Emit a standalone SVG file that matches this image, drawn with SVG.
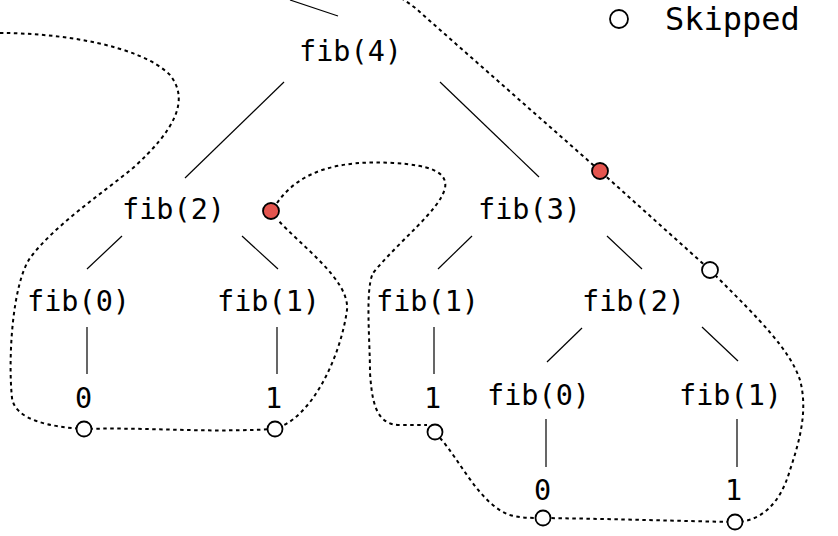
<svg xmlns="http://www.w3.org/2000/svg" width="838" height="536" viewBox="0 0 838 536">
<style>
.t{font-family:"DejaVu Sans Mono","Liberation Mono",monospace;font-size:28.5px;fill:#000}
.e{stroke:#000;stroke-width:1.2;fill:none}
.d{stroke:#000;stroke-width:2;stroke-dasharray:3.5 3.5;fill:none}
.o{fill:#fff;stroke:#000;stroke-width:1.8}
.r{fill:#e4554f;stroke:#000;stroke-width:1.8}
</style>
<rect width="838" height="536" fill="#fff"/>
<g id="connectors">
<line class="e" x1="290" y1="0" x2="338" y2="16"/>
<line class="e" x1="284" y1="82" x2="185" y2="178"/>
<line class="e" x1="440" y1="82" x2="539" y2="177"/>
<line class="e" x1="122" y1="236" x2="87" y2="269"/>
<line class="e" x1="242" y1="236" x2="278" y2="269"/>
<line class="e" x1="87" y1="327" x2="87" y2="374"/>
<line class="e" x1="277" y1="327" x2="277" y2="374"/>
<line class="e" x1="472" y1="236" x2="438" y2="269"/>
<line class="e" x1="607" y1="236" x2="642" y2="269"/>
<line class="e" x1="434" y1="327" x2="434" y2="374"/>
<line class="e" x1="582" y1="328" x2="547" y2="362"/>
<line class="e" x1="702" y1="327" x2="738" y2="361"/>
<line class="e" x1="546" y1="419" x2="546" y2="467"/>
<line class="e" x1="737" y1="419" x2="737" y2="467"/>
</g>
<g id="traces">
<path class="d" d="M0 33 C60 33 140 45 170 75 C190 100 175 130 133 168 C100 195 55 225 30 258 C12 285 8 360 12 398 C15 420 50 427 84 429 C150 427 200 433 274 429 C310 420 340 360 347 310 C350 280 300 245 278 220"/>
<path class="d" d="M277 203 C300 170 340 160 393 163 C430 165 448 172 445 188 C440 210 400 240 373 273 C365 290 370 340 370 373 C372 400 375 425 400 425 L427 425"/>
<path class="d" d="M440 438 C460 460 480 505 510 515 C520 518 530 518 543 518 C620 519 680 521 734 522 C760 522 780 505 790 470 C800 440 808 410 800 380 C790 350 760 320 716 276"/>
<path class="d" d="M401 -2 C410 4 416 8 422 14 L600 171 L709 269"/>
</g>
<g id="fib4"><text class="t" x="299" y="61">fib(4)</text></g>
<g id="fib2a"><text class="t" x="122" y="219">fib(2)</text></g>
<g id="fib3"><text class="t" x="478" y="219">fib(3)</text></g>
<g id="fib0a"><text class="t" x="27" y="311">fib(0)</text></g>
<g id="fib1a"><text class="t" x="217" y="311">fib(1)</text></g>
<g id="fib1b"><text class="t" x="376" y="311">fib(1)</text></g>
<g id="fib2b"><text class="t" x="582" y="311">fib(2)</text></g>
<g id="v0a"><text class="t" x="75" y="408">0</text></g>
<g id="v1a"><text class="t" x="265" y="408">1</text></g>
<g id="v1b"><text class="t" x="424" y="408">1</text></g>
<g id="fib0b"><text class="t" x="487" y="405">fib(0)</text></g>
<g id="fib1c"><text class="t" x="679" y="405">fib(1)</text></g>
<g id="v0b"><text class="t" x="534" y="500">0</text></g>
<g id="v1c"><text class="t" x="725" y="500">1</text></g>
<g id="markers">
<circle class="r" cx="271" cy="211" r="8"/>
<circle class="r" cx="600" cy="171" r="8"/>
<circle class="o" cx="710" cy="270" r="8"/>
<circle class="o" cx="84" cy="429" r="7.5"/>
<circle class="o" cx="275" cy="429" r="7.5"/>
<circle class="o" cx="435" cy="432" r="7.5"/>
<circle class="o" cx="543" cy="518" r="7.5"/>
<circle class="o" cx="735" cy="522" r="7.5"/>
</g>
<g id="legend">
<circle class="o" cx="619" cy="19" r="9"/>
<text class="t" x="665" y="30" style="font-size:32px">Skipped</text>
</g>
</svg>
